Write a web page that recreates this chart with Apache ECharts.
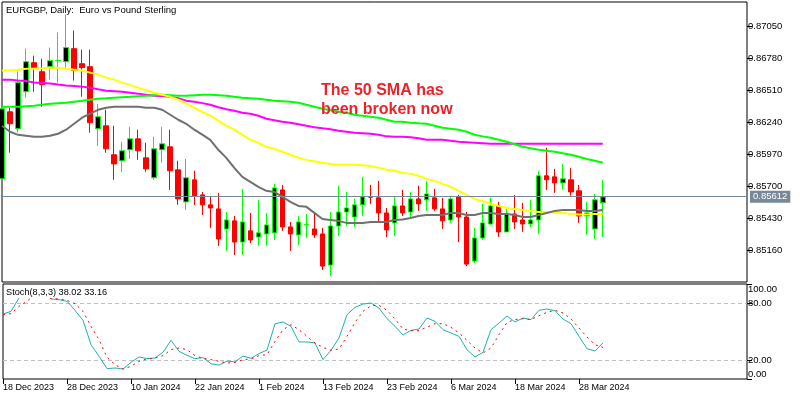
<!DOCTYPE html>
<html>
<head>
<meta charset="utf-8">
<script src="https://cdn.jsdelivr.net/npm/echarts@6/dist/echarts.min.js"></script>
<style>
html, body { margin: 0; padding: 0; background: #fff; }
</style>
</head>
<body>
<div id="main" style="width: 800px;height:400px;"></div>
<script type="text/javascript">
    var categories = [
        '18 Dec 2023','19 Dec 2023','20 Dec 2023','21 Dec 2023','22 Dec 2023','25 Dec 2023','26 Dec 2023','27 Dec 2023','28 Dec 2023','29 Dec 2023',
        '2 Jan 2024','3 Jan 2024','4 Jan 2024','5 Jan 2024','8 Jan 2024','9 Jan 2024','10 Jan 2024','11 Jan 2024','12 Jan 2024','15 Jan 2024',
        '16 Jan 2024','17 Jan 2024','18 Jan 2024','19 Jan 2024','22 Jan 2024','23 Jan 2024','24 Jan 2024','25 Jan 2024','26 Jan 2024','29 Jan 2024',
        '30 Jan 2024','31 Jan 2024','1 Feb 2024','2 Feb 2024','5 Feb 2024','6 Feb 2024','7 Feb 2024','8 Feb 2024','9 Feb 2024','12 Feb 2024',
        '13 Feb 2024','14 Feb 2024','15 Feb 2024','16 Feb 2024','19 Feb 2024','20 Feb 2024','21 Feb 2024','22 Feb 2024','23 Feb 2024','26 Feb 2024',
        '27 Feb 2024','28 Feb 2024','29 Feb 2024','1 Mar 2024','4 Mar 2024','5 Mar 2024','6 Mar 2024','7 Mar 2024','8 Mar 2024','11 Mar 2024',
        '12 Mar 2024','13 Mar 2024','14 Mar 2024','15 Mar 2024','18 Mar 2024','19 Mar 2024','20 Mar 2024','21 Mar 2024','22 Mar 2024','25 Mar 2024',
        '26 Mar 2024','27 Mar 2024','28 Mar 2024','29 Mar 2024','1 Apr 2024','2 Apr 2024'
    ];

    var opens = [
        0.85762,0.86327,0.86184,0.86496,0.86741,0.86665,0.86707,0.86758,0.86749,0.86859,
        0.86732,0.86707,0.86184,0.86209,0.85965,0.85914,0.86007,0.86099,0.85939,0.85771,
        0.86007,0.86032,0.85838,0.85568,0.85754,0.85627,0.85543,0.85509,0.85340,0.85408,
        0.85230,0.85324,0.85272,0.85298,0.85307,0.85669,0.85357,0.85290,0.85374,0.85340,
        0.85298,0.85036,0.85365,0.85483,0.85441,0.85543,0.85610,0.85602,0.85475,0.85391,
        0.85534,0.85483,0.85593,0.85585,0.85602,0.85509,0.85416,0.85610,0.85441,0.85070,
        0.85264,0.85382,0.85534,0.85315,0.85466,0.85416,0.85382,0.85416,0.85788,0.85779,
        0.85728,0.85754,0.85661,0.85449,0.85340,0.85560
    ];
    var closes = [
        0.86352,0.86226,0.86573,0.86749,0.86699,0.86556,0.86758,0.86760,0.86868,0.86674,
        0.86699,0.86235,0.86285,0.86015,0.85888,0.85999,0.86099,0.85999,0.85846,0.86015,
        0.86057,0.85830,0.85593,0.85771,0.85619,0.85543,0.85517,0.85255,0.85416,0.85230,
        0.85399,0.85247,0.85307,0.85374,0.85686,0.85357,0.85298,0.85399,0.85376,0.85290,
        0.85027,0.85365,0.85483,0.85517,0.85543,0.85610,0.85608,0.85475,0.85332,0.85534,
        0.85475,0.85593,0.85551,0.85635,0.85509,0.85408,0.85593,0.85441,0.85044,0.85264,
        0.85391,0.85534,0.85315,0.85466,0.85399,0.85382,0.85416,0.85788,0.85754,0.85728,
        0.85762,0.85652,0.85449,0.85475,0.85585,0.85610
    ];
    var lows = [
        0.85754,0.85982,0.86151,0.86446,0.86496,0.86369,0.86598,0.86573,0.86699,0.86590,
        0.86454,0.86151,0.86040,0.85982,0.85754,0.85821,0.85930,0.85922,0.85821,0.85754,
        0.85897,0.85669,0.85543,0.85500,0.85543,0.85458,0.85349,0.85197,0.85155,0.85121,
        0.85121,0.85222,0.85197,0.85197,0.85247,0.85324,0.85155,0.85205,0.85264,0.85264,
        0.84994,0.84943,0.85281,0.85365,0.85357,0.85449,0.85551,0.85399,0.85272,0.85281,
        0.85449,0.85441,0.85492,0.85492,0.85492,0.85340,0.85391,0.85230,0.85027,0.85053,
        0.85247,0.85374,0.85272,0.85315,0.85340,0.85315,0.85357,0.85298,0.85669,0.85644,
        0.85669,0.85619,0.85391,0.85290,0.85255,0.85272
    ];
    var highs = [
        0.86361,0.86361,0.86665,0.86859,0.86800,0.86774,0.86868,0.86995,0.87146,0.87012,
        0.86851,0.86851,0.86395,0.86344,0.86209,0.86074,0.86201,0.86176,0.86066,0.86116,
        0.86201,0.86176,0.85914,0.85930,0.85830,0.85652,0.85610,0.85644,0.85483,0.85449,
        0.85678,0.85475,0.85585,0.85475,0.85720,0.85711,0.85399,0.85449,0.85466,0.85475,
        0.85349,0.85483,0.85703,0.85652,0.85593,0.85779,0.85711,0.85745,0.85517,0.85610,
        0.85669,0.85652,0.85703,0.85745,0.85678,0.85602,0.85619,0.85627,0.85483,0.85349,
        0.85551,0.85602,0.85568,0.85509,0.85627,0.85560,0.85585,0.85830,0.86024,0.85846,
        0.85888,0.85855,0.85711,0.85568,0.85635,0.85754
    ];

    var smaYellow = [
        0.86674,0.86674,0.86682,0.86690,0.86690,0.86694,0.86699,0.86699,0.86690,0.86682,
        0.86674,0.86657,0.86640,0.86615,0.86598,0.86573,0.86552,0.86530,0.86509,0.86488,
        0.86471,0.86454,0.86429,0.86395,0.86361,0.86327,0.86294,0.86252,0.86209,0.86176,
        0.86134,0.86091,0.86066,0.86032,0.86015,0.85990,0.85965,0.85939,0.85922,0.85910,
        0.85897,0.85888,0.85880,0.85880,0.85880,0.85876,0.85871,0.85855,0.85838,0.85830,
        0.85813,0.85804,0.85788,0.85762,0.85745,0.85720,0.85695,0.85661,0.85627,0.85593,
        0.85576,0.85551,0.85534,0.85517,0.85509,0.85500,0.85492,0.85483,0.85483,0.85475,
        0.85475,0.85466,0.85462,0.85462,0.85466,0.85466
    ];
    var smaMagenta = [
        0.86598,0.86598,0.86590,0.86586,0.86573,0.86569,0.86565,0.86556,0.86548,0.86544,
        0.86539,0.86530,0.86517,0.86505,0.86501,0.86496,0.86488,0.86480,0.86471,0.86463,
        0.86459,0.86454,0.86442,0.86421,0.86412,0.86400,0.86386,0.86365,0.86348,0.86336,
        0.86319,0.86311,0.86294,0.86268,0.86256,0.86243,0.86235,0.86222,0.86209,0.86197,
        0.86188,0.86180,0.86167,0.86159,0.86150,0.86146,0.86142,0.86133,0.86120,0.86116,
        0.86116,0.86112,0.86104,0.86091,0.86091,0.86091,0.86083,0.86074,0.86070,0.86066,
        0.86062,0.86057,0.86057,0.86057,0.86057,0.86057,0.86057,0.86057,0.86057,0.86057,
        0.86057,0.86057,0.86057,0.86057,0.86057,0.86057
    ];
    var smaGreen = [
        0.86370,0.86370,0.86370,0.86374,0.86378,0.86386,0.86395,0.86399,0.86403,0.86412,
        0.86420,0.86429,0.86437,0.86441,0.86446,0.86450,0.86454,0.86459,0.86463,0.86467,
        0.86471,0.86467,0.86463,0.86463,0.86467,0.86471,0.86471,0.86467,0.86463,0.86454,
        0.86446,0.86441,0.86437,0.86429,0.86420,0.86416,0.86412,0.86403,0.86386,0.86370,
        0.86353,0.86340,0.86327,0.86319,0.86302,0.86294,0.86285,0.86277,0.86260,0.86243,
        0.86243,0.86235,0.86230,0.86226,0.86209,0.86192,0.86184,0.86176,0.86159,0.86134,
        0.86120,0.86108,0.86091,0.86074,0.86053,0.86032,0.86019,0.86007,0.85999,0.85990,
        0.85977,0.85965,0.85948,0.85930,0.85914,0.85897
    ];
    var smaGray = [
        0.86209,0.86159,0.86133,0.86125,0.86116,0.86116,0.86125,0.86142,0.86176,0.86226,
        0.86277,0.86311,0.86344,0.86361,0.86370,0.86370,0.86370,0.86370,0.86361,0.86361,
        0.86344,0.86302,0.86260,0.86226,0.86176,0.86134,0.86091,0.86007,0.85939,0.85855,
        0.85779,0.85737,0.85695,0.85661,0.85652,0.85610,0.85568,0.85534,0.85526,0.85475,
        0.85424,0.85416,0.85408,0.85391,0.85391,0.85391,0.85399,0.85399,0.85399,0.85416,
        0.85420,0.85433,0.85449,0.85458,0.85458,0.85458,0.85475,0.85475,0.85458,0.85458,
        0.85475,0.85475,0.85466,0.85466,0.85458,0.85441,0.85441,0.85458,0.85475,0.85492,
        0.85500,0.85500,0.85500,0.85492,0.85492,0.85500
    ];

    var stochMain = [
        68.4,71.2,85.3,92,94,92,84.2,83.5,81.8,72.3,
        61.8,36.1,23.9,10.9,11.6,10.5,17.5,23.2,21.4,22.1,
        28.1,40.7,29.1,24.9,21.4,22.5,16.1,14.7,18.9,17.9,
        24.2,21.8,26.7,30.5,58.2,60,55.4,39,39,37.9,
        20.4,30.2,43.2,67.7,75.4,78.9,80,74.7,63.5,55.4,
        46.3,51.2,52.6,64.2,60.7,51.9,48.4,44.9,30.9,23.2,
        28.1,51.9,58.9,66.3,60,64.2,62.5,72.3,73.7,71.9,
        63.2,58.2,44.9,31.9,29.5,38.02
    ];
    var stochSignal = [
        67.7,68.8,76.5,81.8,88.8,87.7,84.9,84.2,82.8,79.3,
        71.2,55.4,41.4,22.8,15.1,10.5,13.3,18.6,21.1,22.1,
        24.6,30.9,32.6,30.9,24.6,21.8,20.4,18.6,16.8,17.5,
        20.4,21.1,24.6,25.6,39.6,51.9,57.2,51.9,44.9,37.9,
        33.3,30.2,31.6,44.9,59.6,71.2,77.2,77.5,72.3,63.2,
        52.6,50.9,50.9,54.7,58.2,58.2,54.4,48.4,40.7,32.6,
        27.4,32.6,46.7,59.6,62.5,63.5,62.5,66.7,70.2,72.3,
        69.5,63.2,53.7,44.2,36.1,33.16
    ];

    var priceTicks = [0.8516, 0.8543, 0.857, 0.8597, 0.8624, 0.8651, 0.8678, 0.8705];
    var stochTicks = [0, 20, 80, 100];
    var lastPrice = 0.85612;

    // the chart keeps an empty stretch to the right of the last candle
    var slots = categories.slice();
    while (slots.length < 94) {
        slots.push('');
    }

    var candles = opens.map(function (o, i) {
        return [o, closes[i], lows[i], highs[i]];
    });

    function showDate(i) {
        return i % 8 === 0 && i < categories.length;
    }

    function smaLine(name, data, color) {
        return {
            name: name,
            type: 'line',
            data: data,
            showSymbol: false,
            lineStyle: {color: color, width: 2},
            z: 3
        };
    }

    var fontName = 'Liberation Sans';
    var myChart = echarts.init(document.getElementById('main'));

    var option = {
        animation: false,
        backgroundColor: '#fff',
        title: [
            {
                text: 'EURGBP, Daily:  Euro vs Pound Sterling',
                left: 6,
                top: 5,
                padding: 0,
                textStyle: {fontFamily: fontName, fontSize: 9.5, fontWeight: 'normal', color: '#000'}
            },
            {
                text: 'Stoch(8,3,3) 38.02 33.16',
                left: 5,
                top: 287,
                padding: [1, 1],
                backgroundColor: '#fff',
                textStyle: {fontFamily: fontName, fontSize: 9.2, fontWeight: 'normal', color: '#000'}
            },
            {
                text: 'The 50 SMA has\nbeen broken now',
                left: 321,
                top: 81,
                padding: 0,
                textStyle: {fontFamily: fontName, fontSize: 16, fontWeight: 'bold', color: '#ee2128', lineHeight: 19}
            }
        ],
        grid: [
            {left: 2, right: 53, top: 2, height: 280, show: true, borderColor: '#000', borderWidth: 1},
            {left: 2, right: 53, top: 284, height: 95, show: true, borderColor: '#000', borderWidth: 1}
        ],
        xAxis: [
            {
                type: 'category',
                gridIndex: 0,
                data: slots,
                boundaryGap: false,
                axisLine: {show: false},
                axisTick: {show: false},
                axisLabel: {show: false}
            },
            {
                type: 'category',
                gridIndex: 1,
                data: slots,
                boundaryGap: false,
                axisLine: {show: false},
                axisTick: {length: 5, interval: showDate, lineStyle: {color: '#000'}},
                axisLabel: {
                    interval: showDate,
                    align: 'left',
                    margin: 4,
                    color: '#000',
                    fontFamily: fontName,
                    fontSize: 9,
                    formatter: function (v) {
                        return v;
                    }
                }
            }
        ],
        yAxis: [
            {
                type: 'value',
                gridIndex: 0,
                position: 'right',
                min: 0.84893,
                max: 0.87252,
                splitLine: {show: false},
                axisLine: {show: false},
                axisTick: {show: true, length: 5, customValues: priceTicks, lineStyle: {color: '#000'}},
                axisLabel: {
                    customValues: priceTicks,
                    margin: 1,
                    color: '#000',
                    fontFamily: fontName,
                    fontSize: 9.5,
                    formatter: function (v) {
                        return v.toFixed(5);
                    }
                }
            },
            {
                type: 'value',
                gridIndex: 1,
                position: 'right',
                min: 0,
                max: 100,
                splitLine: {
                    show: true,
                    showMinLine: false,
                    showMaxLine: false,
                    lineStyle: {color: '#c0c0c0', type: [4, 3], width: 1}
                },
                axisLine: {show: false},
                axisTick: {show: true, length: 5, customValues: stochTicks, lineStyle: {color: '#000'}},
                axisLabel: {
                    customValues: stochTicks,
                    margin: 1,
                    color: '#000',
                    fontFamily: fontName,
                    fontSize: 9.5,
                    verticalAlignMinLabel: 'bottom',
                    verticalAlignMaxLabel: 'top',
                    formatter: function (v) {
                        return v.toFixed(2);
                    }
                }
            }
        ],
        series: [
            {
                name: 'Last price',
                type: 'line',
                data: [],
                showSymbol: false,
                z: 1,
                markLine: {
                    silent: true,
                    symbol: 'none',
                    animation: false,
                    precision: 5,
                    lineStyle: {color: '#778899', width: 1, type: 'solid'},
                    label: {
                        position: 'end',
                        distance: 3,
                        color: '#fff',
                        backgroundColor: '#778899',
                        padding: [1, 3],
                        fontFamily: fontName,
                        fontSize: 9.5,
                        formatter: function () {
                            return lastPrice.toFixed(5);
                        }
                    },
                    data: [{yAxis: lastPrice}]
                }
            },
            {
                name: 'EURGBP',
                type: 'candlestick',
                data: candles,
                barWidth: 5,
                itemStyle: {
                    color: '#000',
                    color0: '#ff0000',
                    borderColor: '#00ff00',
                    borderColor0: '#ff0000',
                    borderWidth: 1
                }
            },
            smaLine('SMA 200', smaMagenta, '#ff00ff'),
            smaLine('SMA 100', smaGreen, '#00ff00'),
            smaLine('SMA 50', smaYellow, '#ffff00'),
            smaLine('SMA 20', smaGray, '#707070'),
            {
                name: 'Stoch',
                type: 'line',
                xAxisIndex: 1,
                yAxisIndex: 1,
                data: stochMain,
                showSymbol: false,
                lineStyle: {color: '#20b2aa', width: 1}
            },
            {
                name: 'Signal',
                type: 'line',
                xAxisIndex: 1,
                yAxisIndex: 1,
                data: stochSignal,
                showSymbol: false,
                lineStyle: {color: '#ff0000', width: 1, type: [2, 4]}
            }
        ]
    };
    myChart.setOption(option);
</script>
</body>
</html>
